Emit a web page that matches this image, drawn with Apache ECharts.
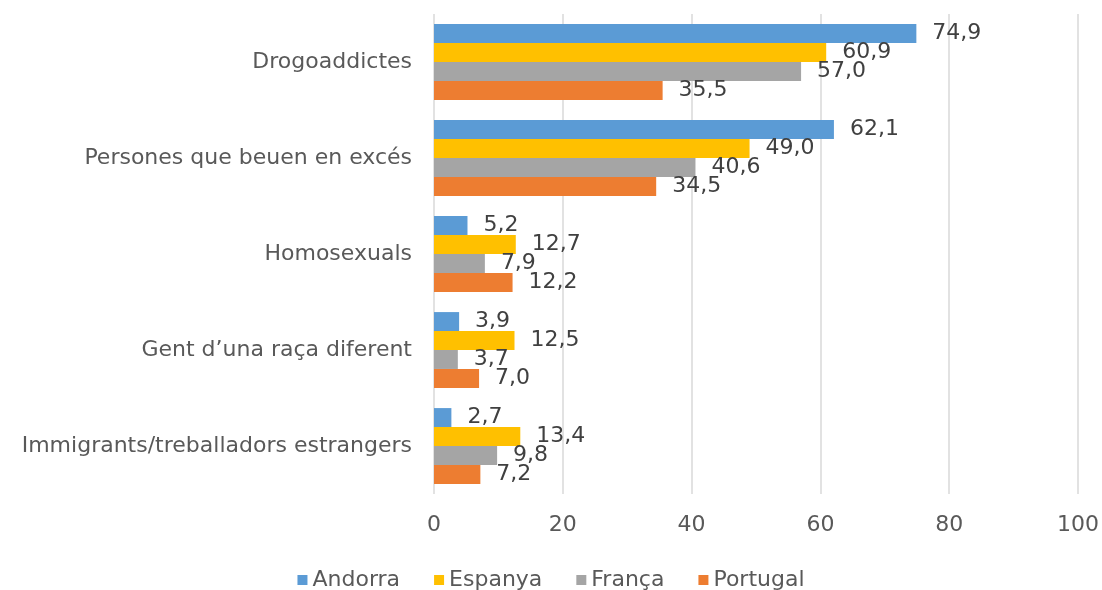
<!DOCTYPE html>
<html>
<head>
<meta charset="utf-8">
<script src="https://cdn.jsdelivr.net/npm/echarts@6/dist/echarts.min.js"></script>
<style>
  html, body { margin: 0; padding: 0; background: #fff; }
  #main { width: 1102px; height: 590px; }
</style>
</head>
<body>
<div id="main"></div>
<script>
var categories = [
    'Drogoaddictes',
    'Persones que beuen en excés',
    'Homosexuals',
    'Gent d\u2019una raça diferent',
    'Immigrants/treballadors estrangers'
];
var andorra = [74.9, 62.1, 5.2, 3.9, 2.7];
var espanya = [60.9, 49.0, 12.7, 12.5, 13.4];
var franca = [57.0, 40.6, 7.9, 3.7, 9.8];
var portugal = [35.5, 34.5, 12.2, 7.0, 7.2];
var xTicks = { min: 0, max: 100, interval: 20 };

var fontName = 'DejaVu Sans';

function makeSeries(name, values, color) {
    return {
        name: name,
        type: 'bar',
        data: values,
        barGap: '0%',
        barCategoryGap: '21%',
        itemStyle: { color: color },
        label: {
            show: true,
            position: 'right',
            distance: 16,
            color: '#404040',
            fontFamily: fontName,
            fontSize: 22,
            formatter: function (p) {
                return p.value.toFixed(1).replace('.', ',');
            }
        }
    };
}

var chartDom = document.getElementById('main');
var myChart = echarts.init(chartDom);
var option;

option = {
    animation: false,
    textStyle: { fontFamily: fontName },
    grid: { left: 434, right: 22, top: 14, bottom: 96, containLabel: false },
    legend: {
        top: 564,
        left: 'center',
        itemWidth: 10,
        itemHeight: 10,
        itemGap: 34,
        icon: 'rect',
        textStyle: { color: '#595959', fontSize: 22, fontFamily: fontName }
    },
    xAxis: {
        type: 'value',
        min: xTicks.min,
        max: xTicks.max,
        interval: xTicks.interval,
        axisLine: { show: false },
        axisTick: { show: false },
        axisLabel: { color: '#595959', fontSize: 22, margin: 20, fontFamily: fontName },
        splitLine: { show: true, lineStyle: { color: '#d9d9d9', width: 1.5 } }
    },
    yAxis: {
        type: 'category',
        data: categories,
        inverse: true,
        axisLine: { show: false },
        axisTick: { show: false },
        axisLabel: { color: '#595959', fontSize: 22, margin: 22, fontFamily: fontName }
    },
    series: [
        makeSeries('Andorra', andorra, '#5B9BD5'),
        makeSeries('Espanya', espanya, '#FFC000'),
        makeSeries('França', franca, '#A5A5A5'),
        makeSeries('Portugal', portugal, '#ED7D31')
    ]
};

option && myChart.setOption(option);
</script>
</body>
</html>
